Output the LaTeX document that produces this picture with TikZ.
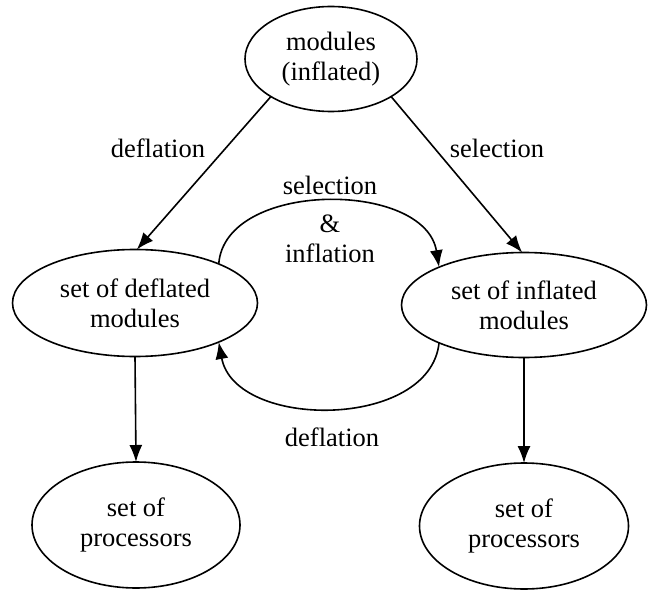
\documentclass[tikz,border=0pt]{standalone}
\usepackage{fontspec}
\setmainfont{Liberation Serif}[Ligatures=TeX]
\usetikzlibrary{shapes.geometric,arrows.meta}
\begin{document}
\begin{tikzpicture}[x=1pt,y=-1pt,
  every node/.style={font=\rmfamily\fontsize{26.5}{30}\selectfont, inner sep=0pt, outer sep=0pt},
  ell/.style={draw, ellipse, line width=1.6pt, align=center},
  arr/.style={line width=1.6pt, -{Latex[length=17pt,width=13pt]}},
  lbl/.style={align=center}]
\useasboundingbox (0,0) rectangle (648,591);
\node[ell, minimum width=172pt, minimum height=105pt] (top) at (331,59) {modules\\(inflated)};
\node[ell, minimum width=245pt, minimum height=107pt] (L) at (135,303) {set of deflated\\modules};
\node[ell, minimum width=245pt, minimum height=105pt] (R) at (524,305) {set of inflated\\modules};
\node[ell, minimum width=208pt, minimum height=126pt] (PL) at (136,525) {set of\\processors};
\node[ell, minimum width=209pt, minimum height=126pt] (PR) at (524,526) {set of\\processors};

\draw[arr] (top.212) -- (L.88);
\draw[arr] (top.328) -- (R.92);
\draw[arr] (L.south) -- (PL.north);
\draw[arr] (R.south) -- (PR.north);
\draw[arr] (L.25) .. controls (225,180) and (425,180) .. (R.156);
\draw[arr] (R.204) .. controls (430,430) and (235,430) .. (L.335);

\node[lbl] (ldefl) at (158,148) {deflation};
\node[lbl] (rsel) at (497,148) {selection};
\node[lbl] (selinf) at (330,219) {selection\\[8pt]\&\\inflation};
\node[lbl] (bdefl) at (332,437) {deflation};
\end{tikzpicture}
\end{document}
